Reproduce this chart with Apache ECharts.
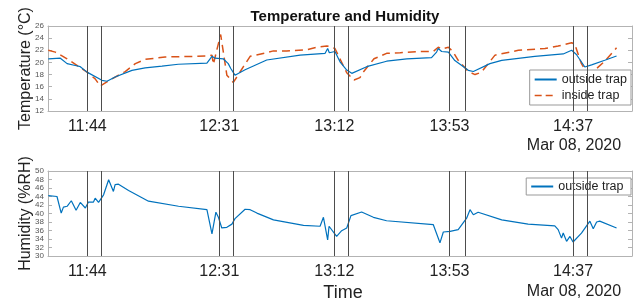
<!DOCTYPE html>
<html>
<head>
<meta charset="utf-8">
<script src="https://cdn.jsdelivr.net/npm/echarts@6/dist/echarts.min.js"></script>
<style>
  html, body { margin: 0; padding: 0; background: #fff; }
  #chart { width: 644px; height: 304px; }
</style>
</head>
<body>
<div id="chart"></div>
<script>
// time in minutes after midnight
var tickTimes = [704, 751, 792, 833, 877]
var eventTimes = [704, 709, 751, 756, 792, 797, 833, 838.5, 877, 882]

var tOut = [690.1, 694.4, 696.8, 699.7, 701.5, 703.9, 709.2, 711.0, 713.9, 719.9, 724.6, 730.6, 736.4, 746.6,
  748.4, 749.5, 752.4, 754.2, 755.1, 756.6, 760.2, 767.9, 779.8, 788.7, 789.6, 790.2, 792.2, 794.0, 796.4,
  798.2, 803.5, 810.6, 817.8, 826.6, 828.4, 829.0, 830.2, 832.6, 834.9, 839.7, 841.5, 847.4, 851.6, 863.4,
  873.5, 876.5, 878.2, 881.2, 883.6, 888.3, 892.5]
var tempOut = [20.6, 20.7, 19.8, 19.5, 19.3, 18.4, 17.05, 16.9, 17.6, 18.7, 19.1, 19.4, 19.7, 19.9,
  21.0, 20.7, 20.6, 19.8, 19.0, 17.9, 18.8, 20.4, 21.2, 21.5, 22.3, 21.6, 21.8, 20.1, 18.75,
  18.2, 19.3, 20.2, 20.6, 20.8, 21.7, 22.3, 21.8, 21.7, 20.3, 18.7, 18.5, 19.8, 20.35, 21.0,
  21.4, 22.0, 21.3, 19.25, 19.6, 20.35, 21.05]

var tIn = [690.1, 692.6, 696.8, 703.9, 706.8, 708.6, 712.8, 717.5, 721.1, 724.6, 731.7, 747.1, 748.4,
  748.9, 750.1, 751.5, 753.7, 756.0, 756.6, 759.6, 762.0, 767.9, 770.3, 775.0, 782.2, 785.7, 789.3,
  790.5, 792.2, 796.4, 799.0, 801.1, 802.3, 806.1, 810.6, 815.4, 822.5, 827.2, 829.0, 830.2, 832.6,
  834.2, 836.1, 839.7, 842.1, 844.4, 849.2, 857.5, 867.0, 871.7, 876.5, 877.6, 880.0, 881.8, 884.2,
  888.3, 892.5]
var tempIn = [22.0, 21.7, 20.6, 18.4, 17.3, 16.1, 17.3, 18.5, 19.8, 20.5, 20.9, 21.05, 21.2,
  19.7, 22.0, 24.6, 17.9, 16.7, 16.8, 19.3, 21.0, 21.6, 21.9, 21.9, 22.1, 22.5, 22.7,
  22.6, 22.3, 18.3, 17.1, 17.5, 18.4, 20.6, 21.5, 21.6, 21.8, 21.8, 22.5, 22.2, 22.5,
  21.8, 20.35, 18.5, 18.0, 18.4, 21.2, 22.0, 22.3, 22.7, 23.25, 23.0, 19.8, 18.4, 18.5,
  20.2, 22.4]

var tHum = [690.1, 693.2, 694.7, 695.5, 696.8, 698.3, 700.0, 701.5, 703.3, 704.4, 706.2, 706.8, 708.0,
  709.8, 711.6, 713.3, 713.9, 715.1, 718.7, 725.8, 736.5, 746.6, 748.4, 749.8, 750.7, 751.9, 753.7,
  755.5, 756.6, 760.2, 762.0, 764.4, 770.3, 781.0, 786.9, 788.1, 789.6, 790.1, 792.8, 794.6, 796.4,
  797.9, 801.7, 805.9, 810.6, 827.2, 829.6, 830.8, 833.2, 836.1, 839.1, 840.3, 841.5, 843.2, 851.6,
  861.0, 870.5, 871.7, 872.9, 873.5, 874.7, 875.9, 877.0, 880.0, 883.0, 884.2, 885.4, 886.5, 892.5]
var humOut = [44.2, 44.0, 40.1, 41.5, 41.7, 43.0, 40.75, 42.6, 41.3, 42.7, 42.7, 43.6, 42.6,
  44.4, 47.95, 45.2, 46.8, 46.9, 45.4, 42.9, 41.7, 40.9, 35.2, 40.3, 39.1, 36.6, 36.75,
  37.5, 38.8, 41.0, 40.9, 40.1, 38.5, 37.2, 37.0, 39.1, 33.8, 37.0, 34.6, 35.95, 36.6,
  39.5, 40.35, 39.1, 38.3, 37.4, 33.1, 35.65, 35.8, 36.2, 38.9, 40.9, 39.7, 40.3, 38.5,
  37.5, 37.1, 36.2, 34.2, 35.4, 33.45, 34.6, 33.3, 35.4, 38.2, 36.4, 38.0, 38.2, 36.6]

function pairs(ts, vs) {
  return ts.map(function (t, i) { return [t, vs[i]] })
}

function hhmm(v) {
  var h = Math.floor(v / 60)
  var m = Math.round(v - h * 60)
  return h + ':' + (m < 10 ? '0' + m : m)
}

var font = "'Liberation Sans', Arial, sans-serif"
var boxColor = '#b3b3b3'
var blue = '#0072BD'
var orange = '#D95319'

function xAx(gridIndex) {
  return {
    type: 'value', gridIndex: gridIndex, min: 690, max: 898,
    axisLine: { lineStyle: { color: boxColor } },
    axisTick: { inside: true, length: 4, customValues: tickTimes, lineStyle: { color: boxColor } },
    axisLabel: { customValues: tickTimes, formatter: hhmm, color: '#222', fontSize: 16, fontFamily: font, margin: 8 },
    splitLine: { show: false }
  }
}
function xTop(gridIndex) {
  return {
    type: 'value', gridIndex: gridIndex, min: 690, max: 898, position: 'top',
    axisLine: { lineStyle: { color: boxColor } },
    axisTick: { show: false }, axisLabel: { show: false }, splitLine: { show: false }
  }
}
function yAx(gridIndex, min, max, right) {
  return {
    type: 'value', gridIndex: gridIndex, min: min, max: max, interval: 2,
    position: right ? 'right' : 'left',
    axisLine: { show: true, lineStyle: { color: boxColor } },
    axisTick: { show: true, inside: true, length: 4, lineStyle: { color: boxColor } },
    axisLabel: { show: !right, showMinLabel: true, showMaxLabel: true, hideOverlap: false,
      color: '#555', fontSize: 8, lineHeight: 8, fontFamily: font, margin: 4 },
    splitLine: { show: false }
  }
}

var eventLines = {
  silent: true, symbol: 'none', label: { show: false },
  lineStyle: { color: '#4d4d4d', type: 'solid', width: 1 },
  data: eventTimes.map(function (t) { return { xAxis: t } })
}

var legendBase = {
  orient: 'vertical', right: 13,
  itemWidth: 22, itemHeight: 10, itemGap: 3,
  borderColor: '#999', borderWidth: 1, backgroundColor: '#fff',
  itemStyle: { opacity: 0 },
  textStyle: { fontSize: 12.5, color: '#222', fontFamily: font }
}

var chart = echarts.init(document.getElementById('chart'))
chart.setOption({
  animation: false,
  backgroundColor: '#fff',
  textStyle: { fontFamily: font },
  title: {
    text: 'Temperature and Humidity', left: 340, textAlign: 'center', top: 4,
    textStyle: { fontSize: 15, fontWeight: 'bold', color: '#111', fontFamily: font }
  },
  grid: [
    { left: 48, right: 12, top: 26, height: 85 },
    { left: 48, right: 12, top: 171, height: 85 }
  ],
  xAxis: [xAx(0), xAx(1), xTop(0), xTop(1)],
  yAxis: [yAx(0, 12, 26, false), yAx(1, 30, 50, false), yAx(0, 12, 26, true), yAx(1, 30, 50, true)],
  legend: [
    Object.assign({}, legendBase, {
      top: 70, padding: [3, 4],
      data: [
        { name: 'outside trap' },
        { name: 'inside trap', lineStyle: { type: [7, 4], width: 1.5 } }
      ]
    }),
    Object.assign({}, legendBase, {
      top: 178, padding: [2, 4],
      data: [{ name: 'outside trap ' }]
    })
  ],
  graphic: [
    { type: 'text', x: 26, y: 68.5, rotation: Math.PI / 2, style: { text: 'Temperature (°C)', fill: '#222', fontSize: 16, fontFamily: font, align: 'center', verticalAlign: 'middle' } },
    { type: 'text', x: 26, y: 213.5, rotation: Math.PI / 2, style: { text: 'Humidity (%RH)', fill: '#222', fontSize: 16, fontFamily: font, align: 'center', verticalAlign: 'middle' } },
    { type: 'text', x: 574, y: 146, style: { text: 'Mar 08, 2020', fill: '#222', fontSize: 16, fontFamily: font, align: 'center', verticalAlign: 'middle' } },
    { type: 'text', x: 574, y: 292, style: { text: 'Mar 08, 2020', fill: '#222', fontSize: 16, fontFamily: font, align: 'center', verticalAlign: 'middle' } },
    { type: 'text', x: 343, y: 293, style: { text: 'Time', fill: '#222', fontSize: 18, fontFamily: font, align: 'center', verticalAlign: 'middle' } }
  ],
  series: [
    {
      name: 'outside trap', type: 'line', xAxisIndex: 0, yAxisIndex: 0,
      data: pairs(tOut, tempOut), showSymbol: false, symbol: 'none', color: blue,
      lineStyle: { width: 1.2, color: blue }, markLine: eventLines, z: 3
    },
    {
      name: 'inside trap', type: 'line', xAxisIndex: 0, yAxisIndex: 0,
      data: pairs(tIn, tempIn), showSymbol: false, symbol: 'none', color: orange,
      lineStyle: { width: 1.5, color: orange, type: [8, 5] }, z: 2
    },
    {
      name: 'outside trap ', type: 'line', xAxisIndex: 1, yAxisIndex: 1,
      data: pairs(tHum, humOut), showSymbol: false, symbol: 'none', color: blue,
      lineStyle: { width: 1.2, color: blue }, markLine: eventLines, z: 3
    }
  ]
})
</script>
</body>
</html>
